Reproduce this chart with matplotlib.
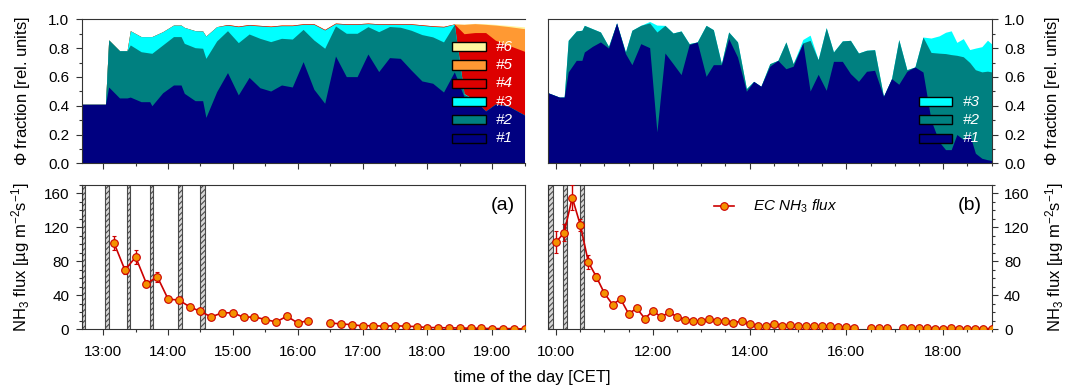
import numpy as np
import matplotlib
matplotlib.use('Agg')
import matplotlib.pyplot as plt
from matplotlib.patches import Rectangle
from matplotlib.ticker import MultipleLocator, FuncFormatter

plt.rcParams['font.family'] = 'Liberation Sans'
plt.rcParams['mathtext.fontset'] = 'custom'
plt.rcParams['mathtext.rm'] = 'Liberation Sans'
plt.rcParams['mathtext.it'] = 'Liberation Sans:italic'
plt.rcParams['hatch.linewidth'] = 0.8

#cluster colours and names (#1 at the bottom of the stack)
class_colors = ['#000080', '#008080', '#00FFFF', '#DD0000', '#FF9933', '#FFF5A0']
class_names = ['#1', '#2', '#3', '#4', '#5', '#6']

# ---- day (a): cluster fractions ----
frac_a_times = ['12:40', '13:02', '13:05', '13:15', '13:22', '13:25', '13:35', '13:43', '13:45',
                '13:55', '14:05', '14:12', '14:15', '14:25', '14:32', '14:35', '14:45', '14:55',
                '15:05', '15:15', '15:25', '15:35', '15:45', '15:55', '16:05', '16:15', '16:25',
                '16:35', '16:45', '16:55', '17:05', '17:15', '17:25', '17:35', '17:45', '17:55',
                '18:05', '18:15', '18:25', '18:34', '18:44', '18:54', '19:03', '19:15', '19:30']
frac_a1 = [.41, .41, .53, .454, .454, .46, .428, .428, .40, .49, .544, .544, .486, .435, .435,
           .319, .498, .63, .475, .597, .525, .502, .544, .53, .706, .514, .417, .745, .602, .602,
           .759, .637, .734, .729, .648, .572, .556, .495, .635, .462, .439, .363, .411, .397, .335]
frac_a2 = [0, 0, .327, .328, .328, .362, .347, .338, .364, .332, .336, .336, .347, .368, .364,
           .41, .352, .291, .363, .301, .343, .343, .324, .333, .224, .342, .382, .209, .301, .301,
           .19, .277, .216, .216, .276, .322, .322, .348, .33, .018, .001, 0, 0, 0, 0]
frac_a3 = [0, 0, 0, 0, 0, .099, .105, .114, .116, .092, .08, .08, .111, .118, .12,
           .155, .099, .039, .111, .062, .086, .104, .088, .093, .035, .109, .127, .016, .062, .062,
           .021, .051, .015, .02, .041, .064, .073, .104, .002, .005, 0, 0, 0, 0, 0]
frac_a4 = [0, 0, 0, 0, 0, 0, 0, 0, 0, 0, 0, 0, 0, 0, 0,
           0, 0, .004, .004, .004, .004, .004, .004, .004, .004, .004, .004, .004, .004, .004,
           .004, .004, .004, .004, .004, .004, .004, .004, .001, .415, .468, .545, .444, .423, .443]
frac_a5 = [0] * 39 + [.065, .062, .057, .105, .13, .157]
frac_a6 = [0] * 39 + [.002, .002, .005, .005, .008, .012]

# ---- day (b): cluster fractions ----
frac_b_times = ['09:50', '10:04', '10:10', '10:15', '10:25', '10:32', '10:35', '10:45', '10:55',
                '11:05', '11:15', '11:26', '11:34', '11:45', '11:56', '12:05', '12:15', '12:25',
                '12:35', '12:45', '12:55', '13:06', '13:15', '13:25', '13:34', '13:45', '13:56',
                '14:05', '14:14', '14:25', '14:35', '14:45', '14:54', '15:06', '15:15', '15:25',
                '15:35', '15:44', '15:55', '16:05', '16:15', '16:25', '16:35', '16:46', '16:56',
                '17:05', '17:15', '17:25', '17:35', '17:45', '17:55', '18:03', '18:10', '18:17',
                '18:25', '18:33', '18:40', '18:48', '18:55', '19:00']
frac_b1 = [.49, .46, .46, .634, .715, .715, .773, .812, .843, .80, .975, .762, .685, .831, .803,
           .218, .766, .692, .616, .824, .843, .604, .685, .685, .866, .738, .50, .569, .535, .674,
           .715, .657, .674, .836, .502, .618, .507, .708, .708, .623, .569, .639, .646, .465, .588,
           .549, .639, .669, .634, .30, .15, .095, .095, .20, .165, .20, .07, .035, .025, .02]
frac_b2 = [0, 0, 0, .22, .204, .209, .185, .123, .069, .012, 0, .011, .239, .127, .172,
           .694, .192, .213, .303, .007, 0, .354, .243, .007, .046, .105, .019, 0, 0, .018,
           0, .186, .018, 0, .352, .102, .435, .065, .142, .231, .197, .146, .143, 0, 0,
           .31, .011, 0, .243, .47, .615, .667, .66, .55, .575, .50, .58, .60, .615, .615]
frac_b3 = [0, 0, 0, 0, 0, 0, 0, 0, 0, 0, 0, 0, 0, 0, .01,
           .048, 0, 0, 0, 0, 0, 0, 0, 0, 0, 0, 0, 0, 0, 0,
           0, 0, 0, .024, .036, 0, 0, 0, 0, 0, 0, 0, 0, 0, 0,
           0, 0, 0, 0, .10, .12, .148, .165, .09, .126, .09, .15, .175, .215, .195]

# ---- EC NH3 flux, 10 min averages (None = no data) ----
flux_a_times = ['13:10', '13:20', '13:30', '13:40', '13:50', '14:00', '14:10', '14:20', '14:30',
                '14:40', '14:50', '15:00', '15:10', '15:20', '15:30', '15:40', '15:50', '16:00',
                '16:10', '16:20', '16:30', '16:40', '16:50', '17:00', '17:10', '17:20', '17:30',
                '17:40', '17:50', '18:00', '18:10', '18:20', '18:30', '18:40', '18:50', '19:00',
                '19:10', '19:20', '19:30']
flux_a = [101.5, 70, 85, 53.7, 62, 35.6, 34.4, 26.5, 21, 14.6, 19.4, 19.4, 14.2, 14.6, 11.5,
          8.7, 15.4, 7.5, 10.3, None, 7.5, 6.3, 5.5, 4, 4.3, 3.6, 4.3, 3.6, 3.2, 2,
          2, 1.6, 1.6, 1.2, 1.2, 0.8, 0.8, 0.8, 0.4]
flux_a_err = [8, 5, 8, 4, 6, 2, 2, 2, 2, 1.5, 1.5, 1.5, 1.5, 1.5, 1.5,
              1.5, 1.5, 1.5, 1.5, None, 1, 1, 1, 1, 1, 1, 1, 1, 1, 1,
              1, 1, 1, 1, 1, 1, 1, 1, 1]

flux_b_times = ['10:00', '10:10', '10:20', '10:30', '10:40', '10:50', '11:00', '11:10', '11:20',
                '11:30', '11:40', '11:50', '12:00', '12:10', '12:20', '12:30', '12:40', '12:50',
                '13:00', '13:10', '13:20', '13:30', '13:40', '13:50', '14:00', '14:10', '14:20',
                '14:30', '14:40', '14:50', '15:00', '15:10', '15:20', '15:30', '15:40', '15:50',
                '16:00', '16:10', '16:20', '16:30', '16:40', '16:50', '17:00', '17:10', '17:20',
                '17:30', '17:40', '17:50', '18:00', '18:10', '18:20', '18:30', '18:40', '18:50',
                '19:00']
flux_b = [102.7, 114, 155, 123, 79, 61.6, 42.3, 29.2, 35.6, 18.2, 24.9, 12.6, 21.7, 14.6, 19.8,
          15, 11.5, 10.3, 9.5, 11.9, 9.9, 10.3, 7.9, 9.5, 5.9, 3.6, 3.6, 6.3, 4, 4.7,
          3.6, 4.3, 3.6, 3.6, 4, 2.4, 2.8, 2, None, 2, 1.2, 1.2, None, 1.6, 1.2,
          1.2, 1.6, 0.8, 0.8, 1.2, 0.8, 0.8, 0.8, 0.8, 0.8]
flux_b_err = [13, 10, 15, 7, 8, 5, 3, 2, 3, 2, 2, 2, 2, 2, 2,
              2, 1.5, 1.5, 1.5, 1.5, 1.5, 1.5, 1.5, 1.5, 1, 1, 1, 1, 1, 1,
              1, 1, 1, 1, 1, 1, 1, 1, None, 1, 1, 1, None, 1, 1,
              1, 1, 1, 1, 1, 1, 1, 1, 1, 1]

# periods without valid flux data (hatched bars)
gaps_a = [('12:40', '12:43'), ('13:02', '13:05'), ('13:22', '13:25'),
          ('13:43', '13:46'), ('14:09', '14:13'), ('14:30', '14:34')]
gaps_b = [('09:50', '09:56'), ('10:09', '10:14'), ('10:30', '10:35')]

LINE_RED = '#CC0000'
MARKER_ORANGE = '#F39200'
TICK_SIZE = 11
LABEL_SIZE = 12
LEFT_LABEL_X = -0.113   # y label positions in axes coordinates
RIGHT_LABEL_X = 1.117


def to_hours(times):
    return np.array([int(t.split(':')[0]) + int(t.split(':')[1]) / 60.0 for t in times])


def as_float(values):
    return np.array([np.nan if v is None else v for v in values], dtype=float)


def clock(x, pos):
    mins = int(round(x * 60))
    return '%d:%02d' % (mins // 60, mins % 60)


def style_axis(ax, right=False):
    for s in ax.spines.values():
        s.set_color('#333333')
        s.set_linewidth(0.8)
    ax.tick_params(which='both', direction='out', width=0.8, colors='#333333',
                   labelcolor='black', labelsize=TICK_SIZE)
    ax.tick_params(which='major', length=4, pad=5)
    ax.tick_params(which='minor', length=2.5)
    ax.tick_params(axis='x', which='major', pad=7)
    if right:
        ax.yaxis.tick_right()
        ax.yaxis.set_label_position('right')
        ax.yaxis.set_label_coords(RIGHT_LABEL_X, 0.5)
    else:
        ax.yaxis.set_label_coords(LEFT_LABEL_X, 0.5)


#stacked cluster fractions, drawn as cumulative fills from 0 so no seams appear
def plot_fractions(ax, times, fracs, n_legend, right=False):
    x = to_hours(times)
    cum = np.cumsum(np.array(fracs, dtype=float), axis=0)
    for i in range(len(fracs) - 1, -1, -1):
        ax.fill_between(x, 0, cum[i], color=class_colors[i], lw=0, zorder=1)
    ax.set_ylim(0, 1)
    ax.yaxis.set_major_locator(MultipleLocator(0.2))
    ax.yaxis.set_minor_locator(MultipleLocator(0.1))
    ax.yaxis.set_major_formatter(FuncFormatter(lambda v, p: '%.1f' % v))
    ax.xaxis.set_minor_locator(MultipleLocator(0.5))
    ax.tick_params(axis='x', labelbottom=False)
    ax.set_ylabel(r'$\Phi$ fraction [rel. units]', fontsize=LABEL_SIZE)
    style_axis(ax, right)
    if not right:
        ax.spines['right'].set_visible(False)

    # legend boxes, #1 at the bottom
    for k in range(n_legend):
        yc = 0.175 + 0.127 * k
        ax.add_patch(Rectangle((0.837, yc - 0.032), 0.075, 0.064, transform=ax.transAxes,
                               facecolor=class_colors[k], edgecolor='black', lw=1, zorder=5))
        ax.text(0.935, yc, class_names[k], transform=ax.transAxes, color='white',
                fontsize=11, style='italic', va='center', ha='left', zorder=5)


def plot_flux(ax, times, flux, err, gaps, label, step, right=False):
    x = to_hours(times)
    for a, b in gaps:
        ax.axvspan(to_hours([a])[0], to_hours([b])[0], ymin=0, ymax=1, facecolor='#d6d6d6',
                   edgecolor='#4a4a4a', hatch='//////', lw=0.8, zorder=1)
    ax.errorbar(x, as_float(flux), yerr=as_float(err), fmt='-o', color=LINE_RED,
                mfc=MARKER_ORANGE, mec=LINE_RED, ms=5.5, mew=0.8, lw=1.2,
                elinewidth=1, capsize=1.5, zorder=3)
    ax.set_ylim(0, 170)
    ax.yaxis.set_major_locator(MultipleLocator(40))
    ax.yaxis.set_minor_locator(MultipleLocator(10))
    ax.xaxis.set_major_locator(MultipleLocator(step))
    ax.xaxis.set_minor_locator(MultipleLocator(0.5))
    ax.xaxis.set_major_formatter(FuncFormatter(clock))
    ax.set_ylabel('NH$_3$ flux [µg m$^{-2}$s$^{-1}$]', fontsize=LABEL_SIZE)
    style_axis(ax, right)
    ax.text(0.95, 0.86, label, transform=ax.transAxes, fontsize=14, ha='center', va='center')


def main():
    fig = plt.figure(figsize=(10.65, 3.87), dpi=100)
    ax_fa = fig.add_axes([0.0767, 0.578, 0.4158, 0.3721])
    ax_fb = fig.add_axes([0.5146, 0.578, 0.4164, 0.3721])
    ax_xa = fig.add_axes([0.0767, 0.1491, 0.4158, 0.3729])
    ax_xb = fig.add_axes([0.5146, 0.1491, 0.4164, 0.3729])

    plot_fractions(ax_fa, frac_a_times, [frac_a1, frac_a2, frac_a3, frac_a4, frac_a5, frac_a6], 6)
    plot_fractions(ax_fb, frac_b_times, [frac_b1, frac_b2, frac_b3], 3, right=True)
    plot_flux(ax_xa, flux_a_times, flux_a, flux_a_err, gaps_a, '(a)', 1)
    plot_flux(ax_xb, flux_b_times, flux_b, flux_b_err, gaps_b, '(b)', 2, right=True)

    for ax in (ax_fa, ax_xa):
        ax.set_xlim(to_hours(['12:40'])[0], to_hours(['19:30'])[0])
    for ax in (ax_fb, ax_xb):
        ax.set_xlim(to_hours(['09:50'])[0], to_hours(['19:00'])[0])

    # legend of the flux series
    ax_xb.plot([0.375, 0.397, 0.42], [0.854, 0.854, 0.854], transform=ax_xb.transAxes,
               color=LINE_RED, lw=1.2, marker='o', markevery=[1], ms=5.5, mfc=MARKER_ORANGE,
               mec=LINE_RED, mew=0.8, zorder=5)
    ax_xb.text(0.462, 0.854, 'EC NH$_3$ flux', transform=ax_xb.transAxes, fontsize=11,
               style='italic', va='center', ha='left')

    fig.text(0.5, 0.025, 'time of the day [CET]', ha='center', va='center', fontsize=LABEL_SIZE)
    fig.savefig('out.png', dpi=100)


if __name__ == "__main__":
    main()
